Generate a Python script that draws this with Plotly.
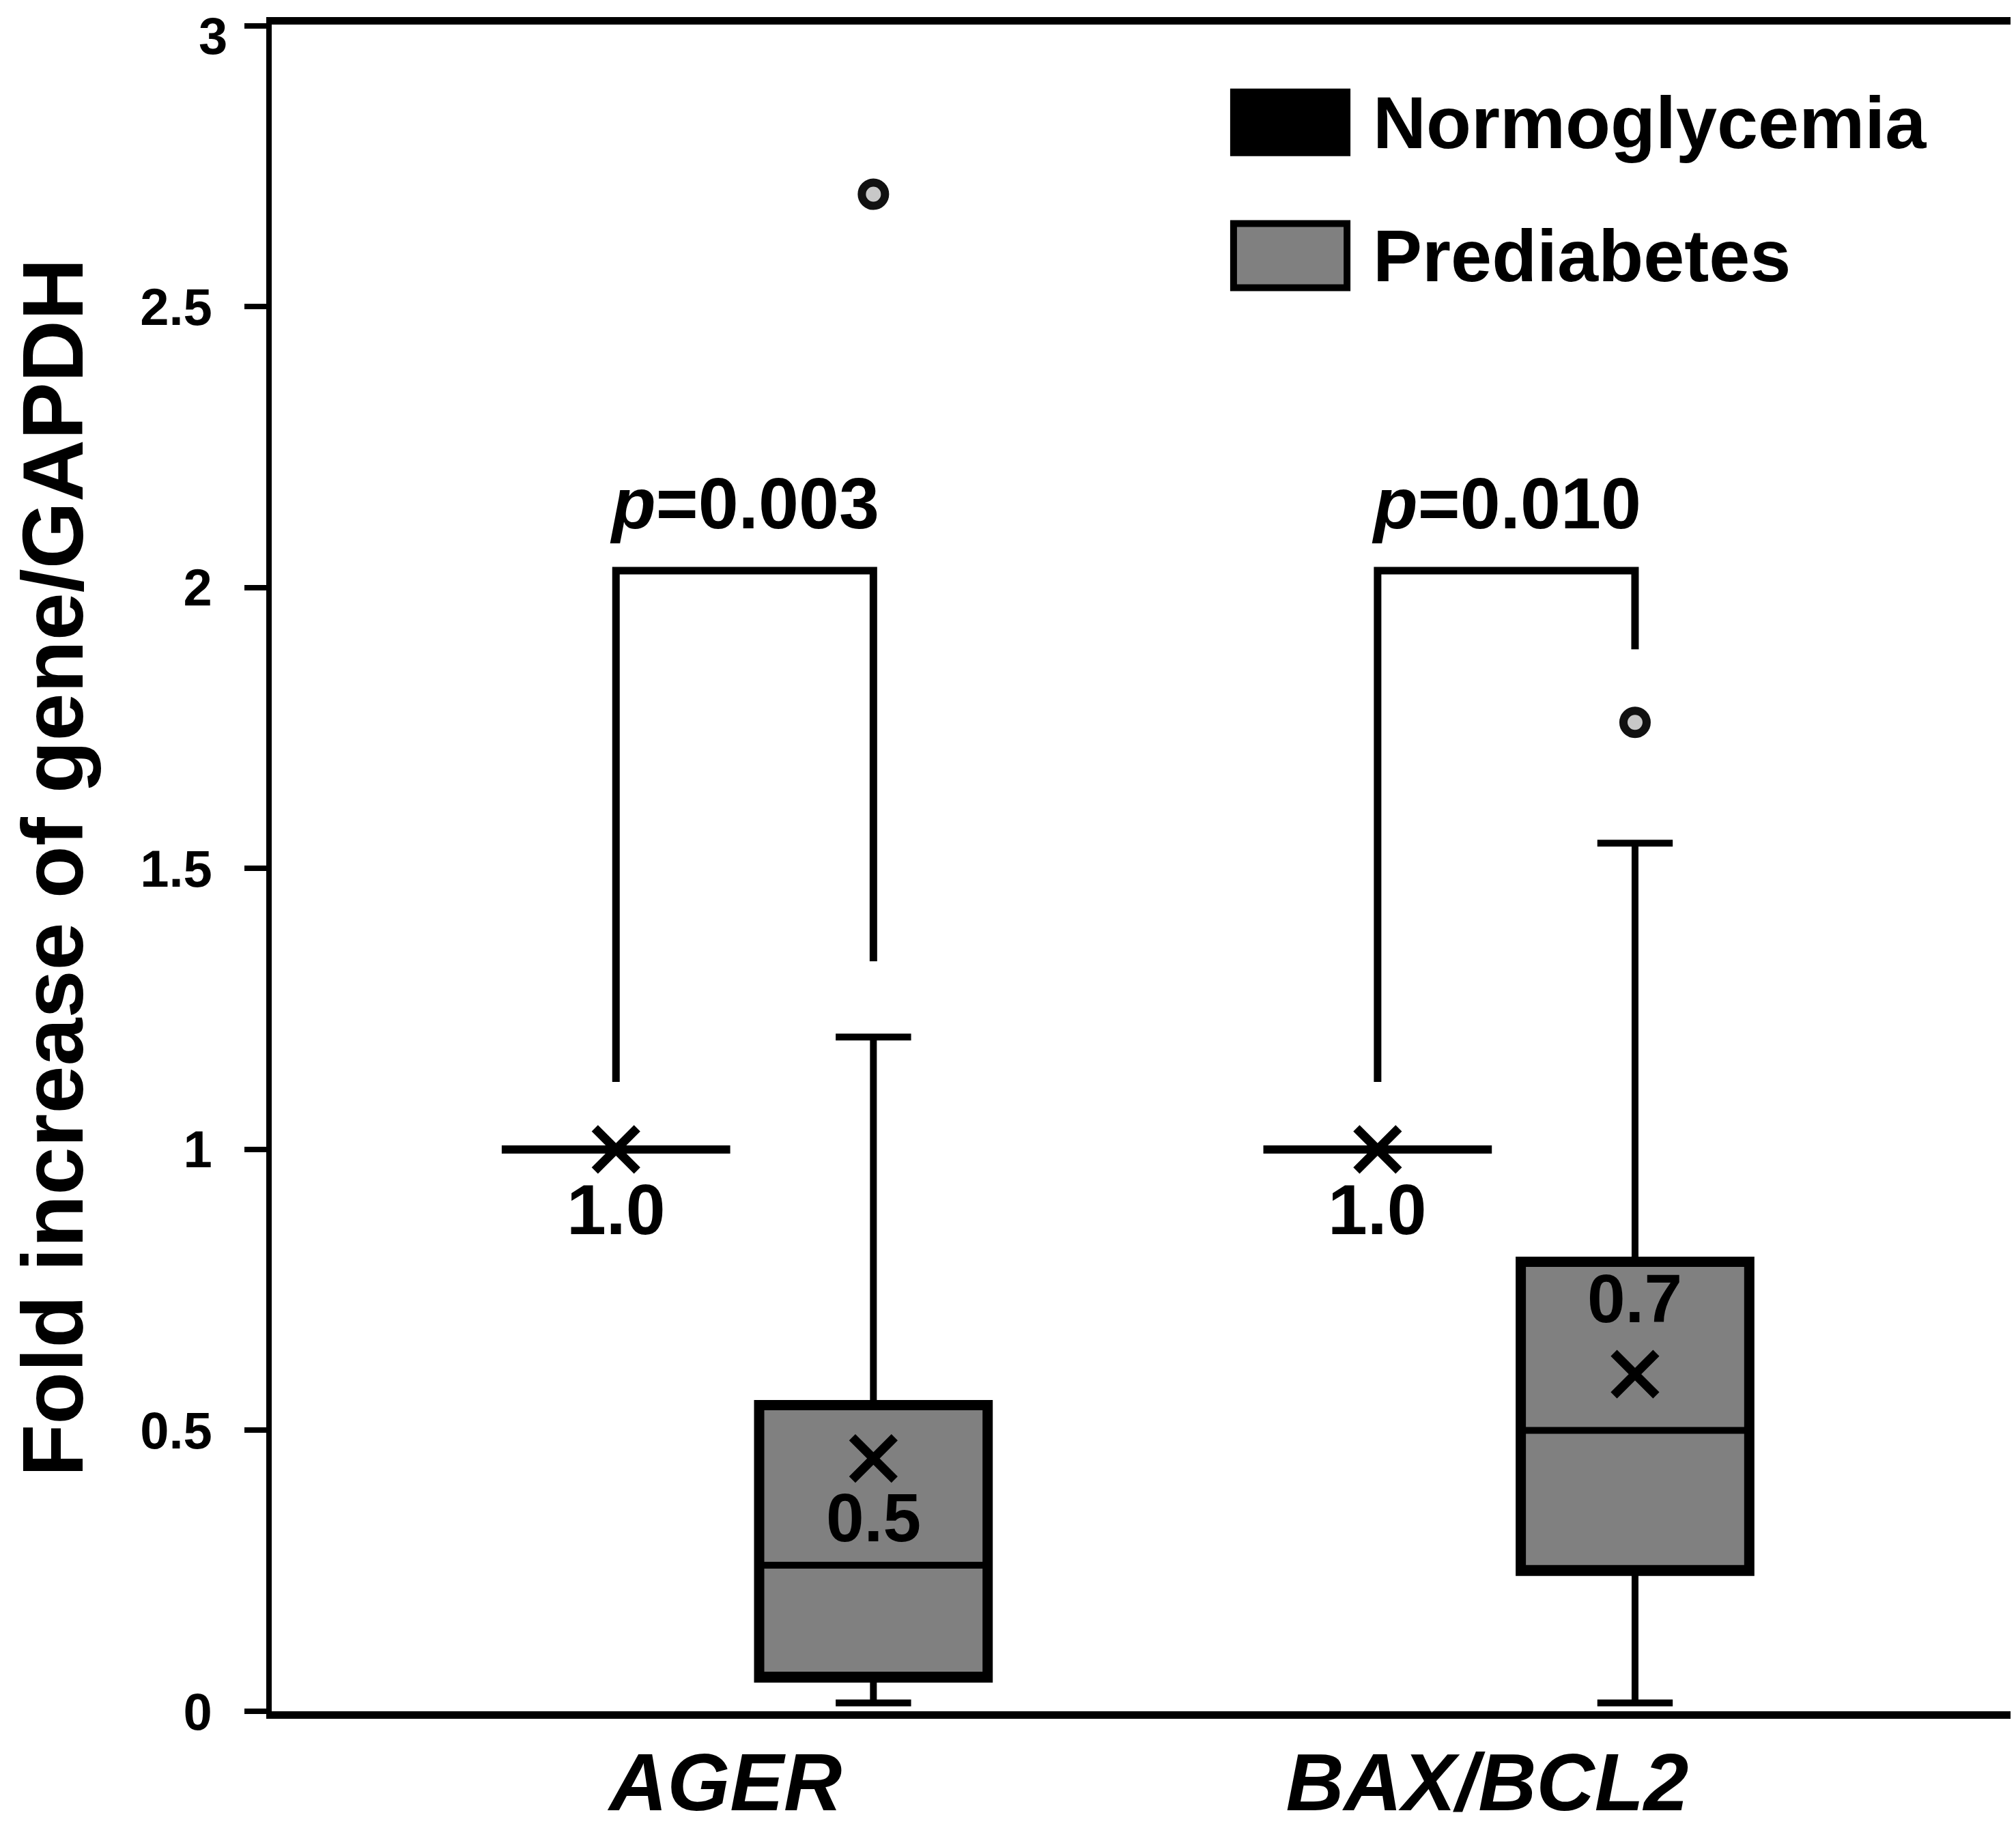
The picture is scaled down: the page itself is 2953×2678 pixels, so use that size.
import plotly.graph_objects as go

# ---------------- data ----------------
genes = ["AGER", "BAX/BCL2"]
groups = ["Normoglycemia", "Prediabetes"]

normo_q1 = [1.0, 1.0]
normo_median = [1.0, 1.0]
normo_q3 = [1.0, 1.0]
normo_low = [1.0, 1.0]
normo_high = [1.0, 1.0]
normo_mean = [1.0, 1.0]

pre_q1 = [0.06, 0.25]
pre_median = [0.26, 0.50]
pre_q3 = [0.545, 0.80]
pre_low = [0.015, 0.015]
pre_high = [1.20, 1.545]
pre_mean = [0.45, 0.60]
pre_outliers = [2.70, 1.76]

mean_labels_normo = ["1.0", "1.0"]
mean_labels_pre = ["0.5", "0.7"]
p_values = ["0.003", "0.010"]
bracket_left_base = [1.12, 1.12]
bracket_right_base = [1.335, 1.89]
bracket_top = [2.03, 2.03]

y_ticks = [0, 0.5, 1, 1.5, 2, 2.5, 3]
y_ticktext = ["0", "0.5", "1", "1.5", "2", "2.5", "3"]

# ---------------- style ----------------
FONT = "Liberation Sans, Arial, sans-serif"
GRAY = "#808080"
OFF = 0.169     # group offset from category centre
BW = 0.30       # box width (x units)

xi = list(range(len(genes)))
x_normo = [i - OFF for i in xi]
x_pre = [i + OFF for i in xi]

fig = go.Figure()

fig.add_trace(go.Box(
    x=x_normo, q1=normo_q1, median=normo_median, q3=normo_q3,
    lowerfence=normo_low, upperfence=normo_high,
    width=BW, whiskerwidth=0.33, boxpoints=False,
    fillcolor="black", line=dict(color="black", width=12),
    name=groups[0], showlegend=False, hoverinfo="skip"))

fig.add_trace(go.Box(
    x=x_pre, q1=pre_q1, median=pre_median, q3=pre_q3,
    lowerfence=pre_low, upperfence=pre_high,
    width=BW, whiskerwidth=0.33, boxpoints=False,
    fillcolor=GRAY, line=dict(color="black", width=10),
    name=groups[1], showlegend=False, hoverinfo="skip"))

# heavier outline of the prediabetes boxes (same quartiles, no whiskers)
fig.add_trace(go.Box(
    x=x_pre, q1=pre_q1, median=pre_q1, q3=pre_q3,
    lowerfence=pre_q1, upperfence=pre_q3,
    width=BW, whiskerwidth=0, boxpoints=False,
    fillcolor="rgba(0,0,0,0)", line=dict(color="black", width=15),
    showlegend=False, hoverinfo="skip"))

# mean markers
fig.add_trace(go.Scatter(
    x=x_normo + x_pre, y=normo_mean + pre_mean, mode="markers",
    marker=dict(symbol="x-thin", size=62, line=dict(color="black", width=13)),
    showlegend=False, hoverinfo="skip"))

# outliers
fig.add_trace(go.Scatter(
    x=x_pre, y=pre_outliers, mode="markers",
    marker=dict(symbol="circle", size=34, color="#c8c8c8",
                line=dict(color="#111111", width=12)),
    showlegend=False, hoverinfo="skip"))

# significance brackets
for i in xi:
    fig.add_trace(go.Scatter(
        x=[x_normo[i], x_normo[i], x_pre[i], x_pre[i]],
        y=[bracket_left_base[i], bracket_top[i], bracket_top[i], bracket_right_base[i]],
        mode="lines", line=dict(color="black", width=11),
        showlegend=False, hoverinfo="skip"))
    fig.add_annotation(x=i, y=2.15, text=f"<b><i>p</i>={p_values[i]}</b>",
                       showarrow=False, font=dict(family=FONT, size=106, color="black"))
    fig.add_annotation(x=x_normo[i], y=0.893, text=f"<b>{mean_labels_normo[i]}</b>",
                       showarrow=False, font=dict(family=FONT, size=104, color="black"))

fig.add_annotation(x=x_pre[0], y=0.345, text=f"<b>{mean_labels_pre[0]}</b>",
                   showarrow=False, font=dict(family=FONT, size=100, color="black"))
fig.add_annotation(x=x_pre[1], y=0.735, text=f"<b>{mean_labels_pre[1]}</b>",
                   showarrow=False, font=dict(family=FONT, size=100, color="black"))

# legend drawn as large swatches
legend_items = [(groups[0], "black", 0.924, 0.960), (groups[1], GRAY, 0.844, 0.882)]
for name, col, y0, y1 in legend_items:
    fig.add_shape(type="rect", xref="paper", yref="paper", x0=0.551, x1=0.616,
                  y0=y0, y1=y1, fillcolor=col, line=dict(color="black", width=10))
    fig.add_annotation(xref="paper", yref="paper", x=0.630, y=(y0 + y1) / 2,
                       xanchor="left", yanchor="middle", showarrow=False,
                       text=f"<b>{name}</b>",
                       font=dict(family=FONT, size=108, color="black"))

# y-axis title
fig.add_annotation(xref="paper", yref="paper", x=-0.1255, y=0.5, textangle=-90,
                   xanchor="center", yanchor="middle", showarrow=False,
                   text="<b>Fold increase of gene/GAPDH</b>",
                   font=dict(family=FONT, size=126, color="black"))

# top tick label sits just inside the figure edge (slightly below its tick, as in the source)
top_labels = [t if v < max(y_ticks) else "" for v, t in zip(y_ticks, y_ticktext)]
fig.add_annotation(xref="paper", yref="paper", x=-0.0245, y=1.0113,
                   xanchor="right", yanchor="top", showarrow=False,
                   text=f"<b>{y_ticktext[-1]}</b>",
                   font=dict(family=FONT, size=76, color="black"))

fig.update_layout(
    width=2953, height=2678,
    margin=dict(l=390, r=6, t=28, b=179, autoexpand=False),
    paper_bgcolor="white", plot_bgcolor="white",
    font=dict(family=FONT, color="black"),
    xaxis=dict(range=[-0.621, 1.671], tickvals=xi,
               ticktext=[f"<b><i>{g}</i></b>" for g in genes],
               tickfont=dict(family=FONT, size=118, color="black"),
               showgrid=False, zeroline=False, showline=True, linecolor="black",
               linewidth=11, mirror=True, ticks="", ticklabelstandoff=-8,
               ticklabelshift=-28, automargin=False),
    yaxis=dict(range=[0, 3.002], tickvals=y_ticks,
               ticktext=[f"<b>{t}</b>" if t else "" for t in top_labels],
               tickfont=dict(family=FONT, size=76, color="black"),
               showgrid=False, zeroline=False, showline=True, linecolor="black",
               linewidth=8, mirror=True, ticks="outside", ticklen=32,
               tickwidth=8, tickcolor="black", ticklabelstandoff=32,
               ticklabeloverflow="allow", automargin=False),
)

fig.write_html("out.html")
